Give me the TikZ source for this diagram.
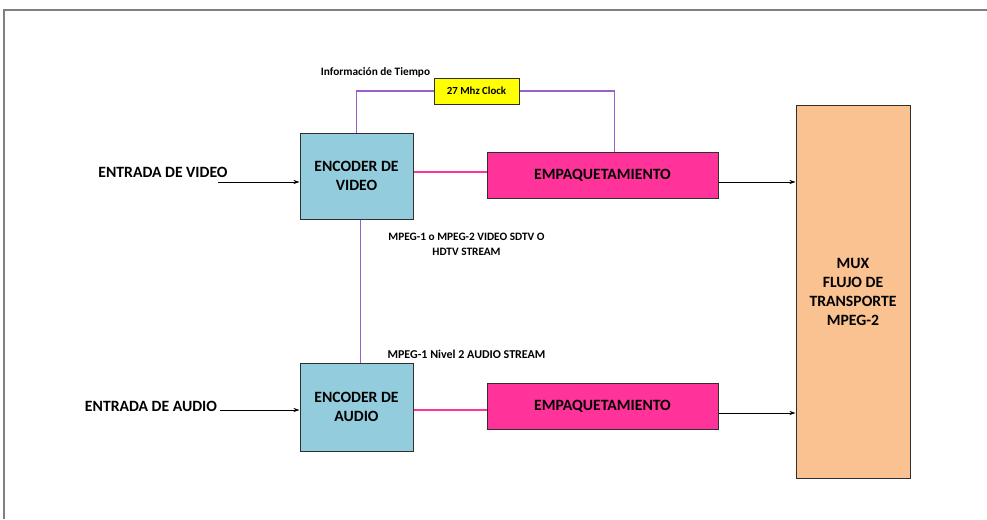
\documentclass[tikz,border=0pt]{standalone}
\usepackage{fontspec}
\setmainfont{Carlito}
\usepackage{xcolor}
\usetikzlibrary{arrows.meta, positioning, calc}
\definecolor{encblue}{HTML}{93CDDD}
\definecolor{pktpink}{HTML}{FF3399}
\definecolor{muxpeach}{HTML}{FAC191}
\definecolor{clkyellow}{HTML}{FFFF00}
\definecolor{timepurple}{HTML}{9B5FC9}
\definecolor{edgegray}{HTML}{2F2F2F}

\begin{document}
\begin{tikzpicture}[x=1pt, y=-1pt,
  encbox/.style={rectangle, draw=edgegray, fill=encblue, line width=1pt, minimum width=113pt, minimum height=86pt, align=center, font=\fontsize{15.7}{19}\selectfont\bfseries},
  pktbox/.style={rectangle, draw=edgegray, fill=pktpink, line width=1pt, minimum width=231pt, minimum height=46pt, align=center, font=\fontsize{15.7}{19}\selectfont\bfseries},
  inlbl/.style={font=\fontsize{15.7}{19}\selectfont\bfseries},
  smalllbl/.style={align=center, font=\fontsize{11.3}{15}\selectfont\bfseries},
  arrow/.style={-{Stealth[length=6pt, width=4pt]}, line width=0.9pt, draw=black},
  clockline/.style={line width=1.2pt, draw=timepurple},
  dataline/.style={line width=1.2pt, draw=pktpink}
]
  \useasboundingbox (0,0) rectangle (987,519);
  \draw[line width=1.5pt, draw=gray] (4,519) -- (4,10) -- (987,10);

  \node[encbox] (encV) at (356.5, 176) {ENCODER DE\\VIDEO};
  \node[encbox, minimum height=88pt] (encA) at (356.5, 407) {ENCODER DE\\AUDIO};
  \node[pktbox] (pktV) at (602.5, 175) {EMPAQUETAMIENTO};
  \node[pktbox] (pktA) at (602.5, 406) {EMPAQUETAMIENTO};
  \node[rectangle, draw=edgegray, fill=muxpeach, line width=1pt, minimum width=114pt, minimum height=373pt, align=center, font=\fontsize{15.7}{19}\selectfont\bfseries] (mux) at (853, 291.5) {MUX\\FLUJO DE\\TRANSPORTE\\MPEG-2};
  \node[rectangle, draw=edgegray, fill=clkyellow, line width=1pt, minimum width=85pt, minimum height=26pt, font=\fontsize{10.8}{13}\selectfont\bfseries] (clk) at (476.5, 91) {27 Mhz Clock};

  \node[inlbl] (inV) at (163, 172) {ENTRADA DE VIDEO};
  \node[inlbl] (inA) at (151, 406) {ENTRADA DE AUDIO};
  \coordinate (startV) at (218, 182);
  \coordinate (startA) at (220, 410);

  \node[smalllbl] (tiempo) at (375.5, 72) {Información de Tiempo};
  \node[smalllbl] (vstream) at (466.5, 244.5) {MPEG-1 o MPEG-2 VIDEO SDTV O\\HDTV STREAM};
  \node[smalllbl, font=\fontsize{12}{15}\selectfont\bfseries] (astream) at (466.5, 354) {MPEG-1 Nivel 2 AUDIO STREAM};

  \draw[arrow] (startV) -- (startV -| encV.west);
  \draw[arrow] (startA) -- (startA -| encA.west);
  \draw[dataline] ([yshift=4pt]encV.east) -- ([yshift=4pt]encV.east -| pktV.west);
  \draw[dataline] ([yshift=-3pt]encA.east) -- ([yshift=-3pt]encA.east -| pktA.west);
  \draw[arrow] ([yshift=-7pt]pktV.east) -- ([yshift=-7pt]pktV.east -| mux.west);
  \draw[arrow] ([yshift=-7pt]pktA.east) -- ([yshift=-7pt]pktA.east -| mux.west);

  \draw[clockline] (encV.north) |- (clk.west);
  \draw[clockline] (clk.east) -| ([xshift=12pt]pktV.north);
  \draw[clockline] ([xshift=4pt]encV.south) -- ([xshift=4pt]encA.north);
\end{tikzpicture}
\end{document}
